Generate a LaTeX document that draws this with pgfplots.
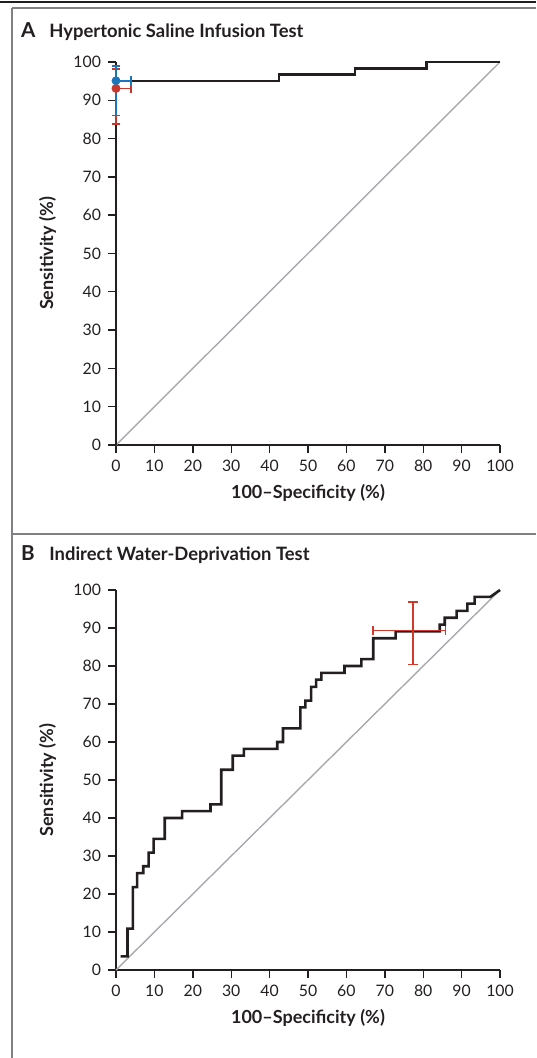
\documentclass[border=0pt]{standalone}
\usepackage{fontspec}
\setmainfont{Lato}
\usepackage{pgfplots}
\pgfplotsset{compat=1.18}
\definecolor{curve}{HTML}{231F20}
\definecolor{diag}{HTML}{A7A9AC}
\definecolor{nejmred}{HTML}{C8372D}
\definecolor{lightred}{HTML}{D0392C}
\definecolor{nejmblue}{HTML}{1B75BB}
\definecolor{framegray}{HTML}{7F8184}

\pgfplotsset{
 rocaxis/.style={
  scale only axis, width=192pt,
  xmin=0,xmax=100,ymin=0,ymax=100,
  axis lines=left, axis line style={-, line width=0.7pt, color=curve},
  xtick={0,10,...,100}, ytick={0,10,...,100},
  tick align=outside, major tick length=4pt,
  tick style={line width=0.7pt, color=curve},
  tick label style={font=\fontsize{7.9}{9}\selectfont, text=curve},
  /pgf/number format/assume math mode=true,
  xlabel={100\textendash Specificity (\%)},
  ylabel={Sensitivity (\%)},
  xlabel style={at={(axis description cs:0.5,-0.125)}, anchor=center, font=\bfseries\fontsize{9}{10}\selectfont, text=curve},
  ylabel style={at={(axis description cs:-0.178,0.5)}, anchor=center, font=\bfseries\fontsize{9}{10}\selectfont, text=curve},
  clip=false,
 }
}

\pgfplotstableread{
x y
1.2 3.6
3.0 3.6
3.0 10.9
4.4 10.9
4.4 21.8
5.5 21.8
5.5 25.5
7.1 25.5
7.1 27.3
8.5 27.3
8.5 30.9
9.8 30.9
9.8 34.5
12.7 34.5
12.7 40.0
17.2 40.0
17.2 41.8
24.6 41.8
24.6 43.6
27.4 43.6
27.4 52.7
30.4 52.7
30.4 56.4
33.3 56.4
33.3 58.2
42.0 58.2
42.0 60.0
43.5 60.0
43.5 63.6
48.0 63.6
48.0 69.1
49.3 69.1
49.3 70.9
50.8 70.9
50.8 74.5
52.1 74.5
52.1 76.4
53.5 76.4
53.5 78.2
59.5 78.2
59.5 80.0
63.9 80.0
63.9 81.8
67.0 81.8
67.0 87.3
72.8 87.3
72.8 89.1
84.3 89.1
84.3 90.9
85.6 90.9
85.6 92.7
88.7 92.7
88.7 94.5
91.5 94.5
91.5 96.4
93.4 96.4
93.4 98.2
97.5 98.2
100 100
}\rocB

\pgfplotstableread{
x y
0 0
0 95.0
42.4 95.0
42.4 96.7
62.2 96.7
62.2 98.3
80.8 98.3
80.8 100
100 100
}\rocA

\begin{document}
\begin{tikzpicture}
\path[use as bounding box] (0,0) rectangle (268pt,-529pt);
% frame
\draw[line width=0.9pt, curve] (0,-1pt) -- (268pt,-1pt);
\draw[line width=1pt, framegray] (5.85pt,-4pt) -- (268pt,-4pt);
\draw[line width=1pt, framegray] (5.85pt,-4pt) -- (5.85pt,-529pt);
\draw[line width=1pt, framegray] (5.85pt,-267pt) -- (268pt,-267pt);
% titles
\node[anchor=base west, inner sep=0, font=\bfseries\fontsize{10.3}{12}\selectfont, text=curve] at (10.3pt,-18.7pt) {A};
\node[anchor=base west, inner sep=0, font=\bfseries\fontsize{9.2}{10}\selectfont, text=curve] at (24.5pt,-18.7pt) {Hypertonic Saline Infusion Test};
\node[anchor=base west, inner sep=0, font=\bfseries\fontsize{10.3}{12}\selectfont, text=curve] at (10.3pt,-280pt) {B};
\node[anchor=base west, inner sep=0, font=\bfseries\fontsize{9.2}{10}\selectfont, text=curve] at (24.5pt,-280pt) {Indirect Water-Deprivation Test};

% Panel A
\begin{axis}[rocaxis, height=191.5pt, at={(58pt,-222.5pt)}, anchor=origin]
\addplot[diag, line width=0.7pt] coordinates {(0,0) (100,100)};
\addplot[curve, line width=1.3pt] table[x=x,y=y] {\rocA};
\addplot[nejmred, line width=0.8pt, mark=*, mark size=1.8pt,
  error bars/.cd, y dir=both, y explicit, x dir=plus, x explicit,
  error bar style={line width=0.8pt, nejmred},
  error mark options={rotate=90, mark size=2.2pt, line width=0.8pt, nejmred}]
  coordinates {(0,93.1) += (3.9,5.1) -= (0,9.3)};
\addplot[nejmblue, line width=0.8pt, mark=*, mark size=1.8pt,
  error bars/.cd, y dir=both, y explicit, x dir=plus, x explicit,
  error bar style={line width=0.8pt, nejmblue},
  error mark options={rotate=90, mark size=2.2pt, line width=0.8pt, nejmblue}]
  coordinates {(0,95.1) += (3.9,3.9) -= (0,9.1)};
\addplot[nejmred, only marks, mark=*, mark size=1.8pt] coordinates {(0,93.1)};
\end{axis}

% Panel B
\begin{axis}[rocaxis, height=190pt, at={(58pt,-485pt)}, anchor=origin]
\addplot[diag, line width=0.7pt] coordinates {(0,0) (100,100)};
\addplot[curve, line width=1.3pt] table[x=x,y=y] {\rocB};
% 95% CI cross (specificity range horizontal, sensitivity range vertical)
\addplot[lightred, line width=0.8pt, mark=|, mark size=2.4pt, mark options={solid, line width=0.8pt, lightred}]
  coordinates {(67.0,89.3) (85.8,89.3)};
\addplot[lightred, line width=0.8pt, mark=-, mark size=2.4pt, mark options={solid, line width=0.8pt, lightred}]
  coordinates {(77.3,80.4) (77.3,96.8)};
\end{axis}
\end{tikzpicture}
\end{document}
